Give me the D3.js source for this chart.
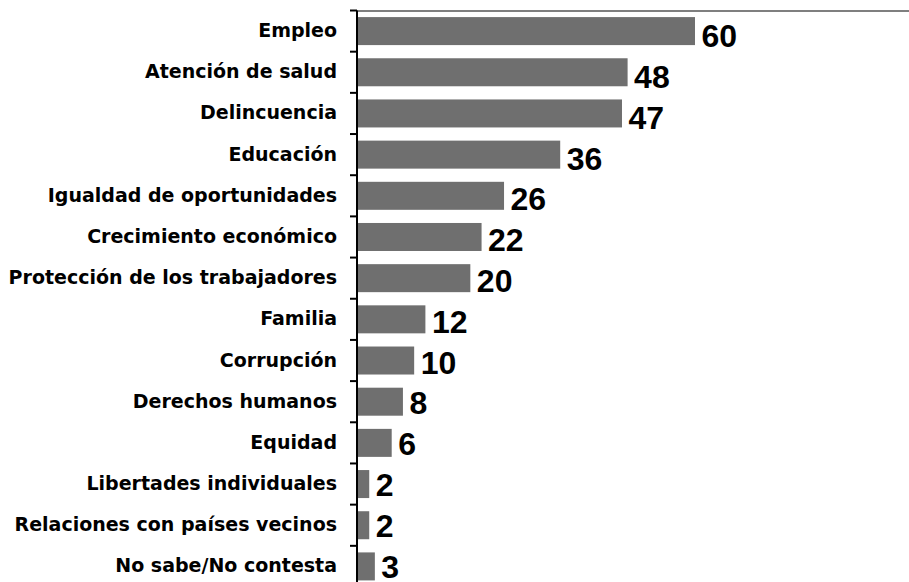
<!DOCTYPE html>
<html><head><meta charset="utf-8">
<script src="https://cdn.jsdelivr.net/npm/d3@7"></script>
<style>html,body{margin:0;padding:0;background:#fff;overflow:hidden}</style>
</head><body>
<svg id="chart" width="909" height="582"></svg>
<script>
const categories = ["Empleo","Atención de salud","Delincuencia","Educación","Igualdad de oportunidades","Crecimiento económico","Protección de los trabajadores","Familia","Corrupción","Derechos humanos","Equidad","Libertades individuales","Relaciones con países vecinos","No sabe/No contesta"];
const values = [60,48,47,36,26,22,20,12,10,8,6,2,2,3];

const W = 909, H = 582;
const svg = d3.select("#chart");
const x = d3.scaleLinear().domain([0,60]).range([358,695]);
const y = d3.scaleBand().domain(categories).range([10.5,587]).paddingInner(0.32).paddingOuter(0.16);
const yVal = d3.scalePoint().domain(categories).range([47.3,577.5]);
const step = y.step();
const y0 = y.range()[0];

// top frame line
svg.append("line").attr("x1",357).attr("x2",W).attr("y1",y0+0.5).attr("y2",y0+0.5)
  .attr("stroke","#555").attr("stroke-width",1.5);

// bars
svg.selectAll("rect.bar").data(categories).join("rect")
  .attr("x",x(0)).attr("y",d=>y(d))
  .attr("width",(d,i)=>x(values[i])-x(0)).attr("height",y.bandwidth())
  .attr("fill","#6f6f6f");

// axis
svg.append("line").attr("x1",357).attr("x2",357).attr("y1",y0).attr("y2",H+10)
  .attr("stroke","#000").attr("stroke-width",2);
svg.selectAll("line.tick").data(d3.range(categories.length+1)).join("line")
  .attr("x1",350).attr("x2",357).attr("y1",i=>y0+i*step).attr("y2",i=>y0+i*step)
  .attr("stroke","#000").attr("stroke-width",2);

// category labels
svg.selectAll("text.cat").data(categories).join("text")
  .attr("x",337).attr("y",d=>y(d)+y.bandwidth()/2+6)
  .attr("text-anchor","end")
  .attr("font-family","DejaVu Sans").attr("font-weight","bold").attr("font-size",19)
  .attr("fill","#000").text(d=>d);

// value labels
svg.selectAll("text.val").data(categories).join("text")
  .attr("x",(d,i)=>x(values[i])+6.5).attr("y",d=>yVal(d))
  .attr("font-family","Liberation Sans, Arial, sans-serif").attr("font-weight","bold").attr("font-size",32)
  .attr("fill","#000").text((d,i)=>values[i]);
</script>
</body></html>
